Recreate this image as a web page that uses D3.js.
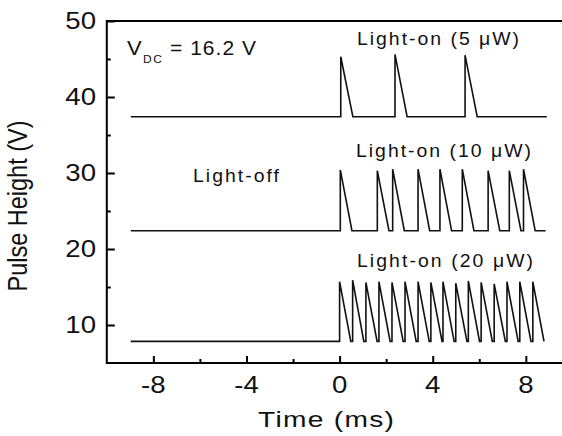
<!DOCTYPE html>
<html><head><meta charset="utf-8">
<script src="https://cdn.jsdelivr.net/npm/d3@7"></script>
<style>body{margin:0;background:#fff} svg{display:block;font-family:"Liberation Sans",Arial,sans-serif}</style>
</head><body><svg id="c" width="562" height="436"></svg>
<script>
// ---- data ----
const xMajor = [-8, -4, 0, 4, 8];
const xMinor = [-6, -2, 2, 6];
const yMajor = [10, 20, 30, 40, 50];
const yMinor = [15, 25, 35, 45];
const xTickLabels = ["-8", "-4", "0", "4", "8"];
const yTickLabels = ["10", "20", "30", "40", "50"];

// 5 uW trace
const base5 = 37.4;
const peaks5 = [0.05, 2.38, 5.39];
const heights5 = [45.3, 45.6, 45.5];
// 10 uW trace
const base10 = 22.4;
const peaks10 = [0.03, 1.62, 2.28, 3.37, 4.31, 5.27, 6.38, 7.29, 7.9];
const heights10 = [30.4, 30.3, 30.5, 30.5, 30.5, 30.5, 30.3, 30.3, 30.5];
// 20 uW trace
const base20 = 7.85;
const peaks20 = [0.0, 0.56, 1.13, 1.69, 2.25, 2.81, 3.37, 3.92, 4.44, 4.99, 5.53, 6.08, 6.64, 7.19, 7.74, 8.30];
const heights20 = [15.7, 15.9, 15.6, 15.7, 15.6, 15.7, 15.7, 15.6, 15.7, 15.5, 15.8, 15.6, 15.4, 15.7, 15.7, 15.7];

const traceStart = -8.97;
const traceEnd5 = 8.9, traceEnd10 = 8.85;
const decay5 = 0.52, decay10 = 0.5, decay20 = 0.48;

// ---- layout ----
const svg = d3.select("#c");
const x = d3.scaleLinear().domain([-10, 10]).range([106.8, 572.4]);
const y = d3.scaleLinear().domain([5, 50]).range([363, 21]);

function buildTrace(base, peaks, heights, decay, end) {
  const pts = [[traceStart, base]];
  peaks.forEach((t, i) => {
    pts.push([t, base]);
    pts.push([t, heights[i]]);
    pts.push([t + decay, base]);
  });
  const last = pts[pts.length - 1][0];
  if (end > last) pts.push([end, base]);
  return pts;
}

const traces = [
  buildTrace(base5, peaks5, heights5, decay5, traceEnd5),
  buildTrace(base10, peaks10, heights10, decay10, traceEnd10),
  buildTrace(base20, peaks20, heights20, decay20, 0)
];

const line = d3.line().x(d => x(d[0])).y(d => y(d[1]));
svg.append("g").selectAll("path").data(traces).join("path")
  .attr("d", line).attr("fill", "none").attr("stroke", "#111")
  .attr("stroke-width", 1.6).attr("stroke-linejoin", "miter").attr("stroke-miterlimit", 10);

// frame
svg.append("rect")
  .attr("x", x(-10)).attr("y", y(50))
  .attr("width", x(10) - x(-10)).attr("height", y(5) - y(50))
  .attr("fill", "none").attr("stroke", "#000").attr("stroke-width", 2);

// ticks via d3 axes (inward)
const gx = svg.append("g").attr("transform", `translate(0,${y(5)})`)
  .call(d3.axisBottom(x).tickValues(xMajor).tickSize(-7).tickFormat(""));
const gxm = svg.append("g").attr("transform", `translate(0,${y(5)})`)
  .call(d3.axisBottom(x).tickValues(xMinor).tickSize(-4).tickFormat(""));
const gy = svg.append("g").attr("transform", `translate(${x(-10)},0)`)
  .call(d3.axisLeft(y).tickValues(yMajor).tickSize(-8).tickFormat(""));
const gym = svg.append("g").attr("transform", `translate(${x(-10)},0)`)
  .call(d3.axisLeft(y).tickValues(yMinor).tickSize(-4).tickFormat(""));
[gx, gxm, gy, gym].forEach(g => {
  g.select(".domain").remove();
  g.selectAll("line").attr("stroke", "#000").attr("stroke-width", 2);
});

// text helper: slight horizontal stretch plus letter spacing to a target width
function txt(str, px, py, size, opts) {
  const g = svg.append("g").attr("transform", `translate(${px},${py})`);
  const sx = opts.sx || 1;
  const t = g.append("text").text(str).attr("font-size", size)
    .attr("text-anchor", opts.anchor || "start").attr("fill", "#111")
    .attr("transform", `scale(${sx},1)`);
  if (opts.width) t.attr("textLength", opts.width / sx).attr("lengthAdjust", "spacing");
  return g;
}

xMajor.forEach((v, i) => txt(xTickLabels[i], x(v), 393, 23, {anchor: "middle", sx: 1.2}));
yMajor.forEach((v, i) => txt(yTickLabels[i], 96, y(v) + 8.3, 23, {anchor: "end", sx: 1.2}));

txt("Time (ms)", 326, 427, 22, {anchor: "middle", sx: 1.28, width: 136});
// y title rotated, glyphs stretched across the text direction
svg.append("text").text("Pulse Height (V)")
  .attr("font-size", 23.5).attr("text-anchor", "middle").attr("fill", "#111")
  .attr("transform", "translate(27,206) rotate(-90) scale(1,1.2)");

txt("V", 127, 55, 20, {sx: 1.1});
txt("DC", 143, 63, 10, {sx: 1.2, width: 19});
txt("= 16.2 V", 170, 55, 20, {sx: 1.05, width: 86});
txt("Light-on (5 \u03bcW)", 357, 45, 18.5, {sx: 1.05, width: 162});
txt("Light-on (10 \u03bcW)", 356, 157, 18.5, {sx: 1.05, width: 175});
txt("Light-off", 193, 182, 18.5, {sx: 1.05, width: 86});
txt("Light-on (20 \u03bcW)", 357, 267, 18.5, {sx: 1.05, width: 176});
</script></body></html>
